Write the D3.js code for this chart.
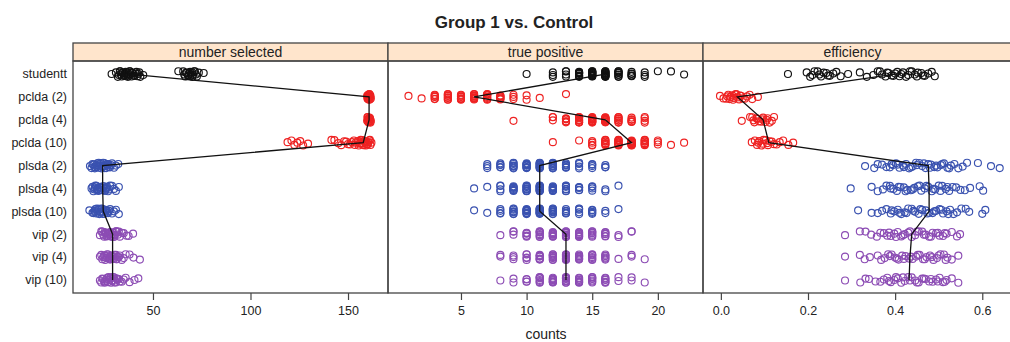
<!DOCTYPE html>
<html>
<head>
<meta charset="utf-8">
<script src="https://cdn.jsdelivr.net/npm/d3@7"></script>
<style>
  body { margin: 0; background: #fff; }
  text { font-family: "Liberation Sans", Arial, sans-serif; fill: #222; }
</style>
</head>
<body>
<svg id="chart" width="1010" height="342"></svg>
<script>
// rows (top to bottom) and their colour groups
const rows = ['studentt', 'pclda (2)', 'pclda (4)', 'pclda (10)', 'plsda (2)', 'plsda (4)', 'plsda (10)', 'vip (2)', 'vip (4)', 'vip (10)'];
const rowColors = ['#111111', '#ee2222', '#ee2222', '#ee2222', '#3a52b0', '#3a52b0', '#3a52b0', '#8c4cb4', '#8c4cb4', '#8c4cb4'];

const panelTitles = ['number selected', 'true positive', 'efficiency'];

// number selected, one list per row
const selectedValues = [
  [28.8, 31, 32, 32.5, 33, 33.2, 33.5, 34, 34.2, 34.5, 35, 35.2, 35.5, 36, 36.2, 36.5, 37, 37.2, 37.5, 38, 38.2, 38.5, 39, 39.2, 39.5, 40, 40.5, 41, 41.5, 42, 42.5, 43, 43.5, 45,
   63, 65.5, 66, 66.5, 67, 67.2, 68, 68.2, 68.5, 69, 69.2, 69.5, 70, 70.2, 70.5, 71, 71.5, 72, 72.5, 73.5, 76],
  [159.8, 160, 160.1, 160.2, 160.3, 160.4, 160.5, 160.6, 160.7, 160.8, 160.9, 161, 161.1, 161.2, 161.3, 161.5, 161.7],
  [159.8, 160, 160.1, 160.2, 160.4, 160.5, 160.6, 160.7, 160.8, 160.9, 161, 161.1, 161.2, 161.3, 161.5, 161.7],
  [119, 121, 122.5, 124, 125.5, 127, 129.5, 141.5, 143, 145, 146.5, 148, 149, 150, 151, 152, 153, 153.5, 154, 155, 155.5, 156, 156.5, 157, 157.5, 158, 158.5, 159, 159.5, 160, 160.5, 161, 161.5, 162, 158.2, 159.2, 160.2, 161.2, 157.2, 156.2],
  [17.7, 18.5, 19, 19.5, 20, 20.5, 21, 21.5, 22, 22.5, 23, 23.5, 24, 24.5, 25, 25.5, 26, 26.5, 27, 27.5, 28, 28.5, 29, 30, 31, 32.2, 20.2, 21.2, 22.2, 23.2, 24.2, 25.2, 26.2, 27.2],
  [18.5, 19, 19.5, 20, 20.5, 21, 21.5, 22, 22.5, 23, 23.5, 24, 24.5, 25, 25.5, 26, 26.5, 27, 27.5, 28, 29, 30, 31, 32.5, 20.2, 21.2, 22.2, 23.2, 24.2, 25.2, 26.2],
  [17.4, 19, 19.5, 20, 20.5, 21, 21.5, 22, 22.5, 23, 23.5, 24, 24.5, 25, 25.5, 26, 26.5, 27, 27.5, 28, 29, 30, 31, 32.5, 20.2, 21.2, 22.2, 23.2, 24.2, 25.2, 26.2],
  [22.8, 23.5, 24, 24.5, 25, 25.5, 26, 26.5, 27, 27.5, 28, 28.5, 29, 29.5, 30, 30.5, 31, 31.5, 32, 33, 34, 35, 36.5, 37.5, 39.8, 25.2, 26.2, 27.2, 28.2, 29.2, 30.2, 31.2, 32.5],
  [22.8, 23.5, 24, 24.5, 25, 25.5, 26, 26.5, 27, 27.5, 28, 28.5, 29, 29.5, 30, 30.5, 31, 31.5, 32, 33, 34, 35, 36, 38, 40, 43.3, 25.2, 26.2, 27.2, 28.2, 29.2, 30.2, 31.2, 32.5],
  [22.8, 23.5, 24, 24.5, 25, 25.5, 26, 26.5, 27, 27.5, 28, 28.5, 29, 29.5, 30, 30.5, 31, 31.5, 32, 33, 34, 35, 36, 38, 40.5, 42.5, 25.2, 26.2, 27.2, 28.2, 29.2, 30.2, 31.2, 32.5]
];
const selectedMedians = [38, 160.8, 160.8, 157.8, 24.2, 24.2, 24.5, 29.3, 29.3, 29.3];

// true positive: [count value, how many times] per row
const truePosCounts = [
  [[10, 1], [12, 3], [13, 4], [14, 10], [15, 14], [16, 14], [17, 9], [18, 6], [19, 3], [20, 1], [21, 1], [22, 1]],
  [[1, 1], [2, 1], [3, 6], [4, 8], [5, 8], [6, 10], [7, 8], [8, 7], [9, 3], [10, 2], [11, 1], [13, 1]],
  [[9, 1], [12, 3], [13, 6], [14, 10], [15, 12], [16, 12], [17, 8], [18, 6], [19, 4]],
  [[12, 1], [14, 1], [15, 4], [16, 8], [17, 10], [18, 12], [19, 8], [20, 3], [21, 1], [22, 1]],
  [[7, 3], [8, 5], [9, 8], [10, 10], [11, 12], [12, 10], [13, 7], [14, 5], [15, 4], [16, 3]],
  [[6, 1], [7, 1], [8, 4], [9, 8], [10, 10], [11, 12], [12, 10], [13, 7], [14, 5], [15, 4], [16, 2], [17, 1]],
  [[6, 1], [7, 1], [8, 4], [9, 8], [10, 10], [11, 12], [12, 10], [13, 6], [14, 5], [15, 5], [16, 2], [17, 1]],
  [[8, 1], [9, 3], [10, 6], [11, 8], [12, 10], [13, 10], [14, 8], [15, 7], [16, 6], [17, 2], [18, 2]],
  [[8, 2], [9, 3], [10, 5], [11, 8], [12, 10], [13, 10], [14, 8], [15, 7], [16, 6], [17, 1], [18, 2], [19, 1]],
  [[8, 1], [9, 2], [10, 4], [11, 8], [12, 10], [13, 10], [14, 8], [15, 7], [16, 7], [17, 2], [18, 2], [19, 1]]
];
const truePosMedians = [16, 6, 16, 18, 11, 11, 11, 13, 13, 13];

// efficiency, one list per row
const efficiencyValues = [
  [0.154, 0.197, 0.205, 0.21, 0.215, 0.222, 0.226, 0.23, 0.236, 0.242, 0.246, 0.25, 0.258, 0.265, 0.275, 0.292,
   0.319, 0.335, 0.35, 0.36, 0.365, 0.37, 0.378, 0.382, 0.385, 0.392, 0.396, 0.4, 0.405, 0.41, 0.414, 0.418, 0.425, 0.43, 0.434, 0.438, 0.445, 0.45, 0.452, 0.46, 0.464, 0.468, 0.476, 0.484, 0.491],
  [-0.002, 0.006, 0.012, 0.015, 0.017, 0.02, 0.022, 0.026, 0.028, 0.03, 0.034, 0.036, 0.038, 0.042, 0.044, 0.046, 0.05, 0.055, 0.06, 0.066, 0.072, 0.085],
  [0.048, 0.067, 0.072, 0.075, 0.077, 0.082, 0.085, 0.087, 0.092, 0.095, 0.097, 0.102, 0.105, 0.107, 0.112, 0.117, 0.122],
  [0.071, 0.078, 0.083, 0.086, 0.088, 0.093, 0.096, 0.098, 0.103, 0.106, 0.108, 0.112, 0.117, 0.122, 0.128, 0.135, 0.143, 0.155, 0.166],
  [0.331, 0.352, 0.36, 0.37, 0.38, 0.388, 0.395, 0.402, 0.41, 0.418, 0.425, 0.432, 0.44, 0.448, 0.455, 0.462, 0.47, 0.476, 0.482, 0.49, 0.497, 0.505, 0.512, 0.52, 0.528, 0.536, 0.545, 0.555, 0.565, 0.59, 0.62, 0.64,
   0.392, 0.406, 0.42, 0.436, 0.45, 0.466, 0.48, 0.494, 0.508, 0.524],
  [0.298, 0.346, 0.36, 0.372, 0.38, 0.388, 0.396, 0.404, 0.412, 0.42, 0.428, 0.436, 0.444, 0.452, 0.46, 0.468, 0.476, 0.484, 0.492, 0.5, 0.508, 0.516, 0.524, 0.532, 0.54, 0.55, 0.56, 0.572, 0.594, 0.602,
   0.39, 0.408, 0.424, 0.44, 0.456, 0.472, 0.488, 0.504, 0.52],
  [0.315, 0.346, 0.36, 0.37, 0.38, 0.39, 0.398, 0.406, 0.414, 0.422, 0.43, 0.438, 0.446, 0.454, 0.462, 0.47, 0.478, 0.486, 0.494, 0.502, 0.51, 0.518, 0.526, 0.534, 0.542, 0.552, 0.562, 0.57, 0.6, 0.607,
   0.392, 0.41, 0.426, 0.442, 0.458, 0.474, 0.49, 0.506, 0.522],
  [0.285, 0.319, 0.332, 0.345, 0.358, 0.366, 0.374, 0.382, 0.39, 0.398, 0.406, 0.414, 0.422, 0.43, 0.438, 0.446, 0.454, 0.462, 0.47, 0.478, 0.486, 0.494, 0.502, 0.51, 0.518, 0.53, 0.542, 0.549,
   0.386, 0.402, 0.418, 0.434, 0.45, 0.466, 0.482, 0.498, 0.514],
  [0.285, 0.319, 0.33, 0.342, 0.36, 0.368, 0.376, 0.384, 0.392, 0.4, 0.408, 0.416, 0.424, 0.432, 0.44, 0.448, 0.456, 0.464, 0.472, 0.48, 0.488, 0.496, 0.504, 0.512, 0.52, 0.53, 0.545,
   0.388, 0.404, 0.42, 0.436, 0.452, 0.468, 0.484, 0.5, 0.516],
  [0.285, 0.32, 0.332, 0.34, 0.355, 0.366, 0.374, 0.382, 0.39, 0.398, 0.406, 0.414, 0.422, 0.43, 0.438, 0.446, 0.454, 0.462, 0.47, 0.478, 0.486, 0.494, 0.502, 0.51, 0.518, 0.53, 0.545,
   0.386, 0.402, 0.418, 0.434, 0.45, 0.466, 0.482, 0.498, 0.514]
];
const efficiencyMedians = [0.4, 0.038, 0.097, 0.11, 0.476, 0.478, 0.478, 0.438, 0.434, 0.432];

const tickValues = [[50, 100, 150], [5, 10, 15, 20], [0, 0.2, 0.4, 0.6]];
const domains = [[9, 170.5], [-0.56, 23.44], [-0.041, 0.682]];

// layout
const panelTop = 61, panelBottom = 293, stripTop = 43;
const panelX = [73, 388, 703, 1018];
// small fixed vertical spread so stacked points stay visible
const jitter = [0, -2.2, 1.8, -1, 2.5, -2.6, 1, -1.6, 2.2, -0.5, 1.5, -1.4, 0.5, -2.8, 2.8];

const svg = d3.select('#chart');

const y = d3.scalePoint().domain(rows).range([panelTop, panelBottom]).padding(0.57);

svg.append('text')
  .attr('x', 514).attr('y', 28)
  .attr('text-anchor', 'middle')
  .attr('font-size', '17px').attr('font-weight', 'bold')
  .text('Group 1 vs. Control');

// row labels
svg.append('g').selectAll('text')
  .data(rows).enter().append('text')
  .attr('x', 67).attr('y', d => y(d))
  .attr('dy', '0.35em')
  .attr('text-anchor', 'end')
  .attr('font-size', '12.5px')
  .text(d => d);

// turn each panel's data into flat point lists
const expandList = vals => vals.flatMap((list, r) => list.map((v, i) => ({ row: r, value: v, k: i })));
const expandCounts = vals => vals.flatMap((list, r) => {
  let k = 0;
  return list.flatMap(([v, n]) => d3.range(n).map(() => ({ row: r, value: v, k: k++ })));
});

const panelPoints = [expandList(selectedValues), expandCounts(truePosCounts), expandList(efficiencyValues)];
const panelMedians = [selectedMedians, truePosMedians, efficiencyMedians];

panelTitles.forEach((title, p) => {
  const x0 = panelX[p], x1 = panelX[p + 1];
  const x = d3.scaleLinear().domain(domains[p]).range([x0, x1]);
  const g = svg.append('g');

  g.append('defs').append('clipPath').attr('id', 'clip' + p)
    .append('rect').attr('x', x0).attr('y', panelTop).attr('width', x1 - x0).attr('height', panelBottom - panelTop);

  // strip
  g.append('rect')
    .attr('x', x0).attr('y', stripTop).attr('width', x1 - x0).attr('height', panelTop - stripTop)
    .attr('fill', '#ffe5cc').attr('stroke', '#444').attr('stroke-width', 1.3);
  g.append('text')
    .attr('x', (x0 + x1) / 2 - (p === 2 ? 8 : 0)).attr('y', (stripTop + panelTop) / 2)
    .attr('dy', '0.35em').attr('text-anchor', 'middle')
    .attr('font-size', '14px')
    .text(title);

  const body = g.append('g').attr('clip-path', `url(#clip${p})`);

  body.selectAll('circle')
    .data(panelPoints[p]).enter().append('circle')
    .attr('cx', d => x(d.value))
    .attr('cy', d => y(rows[d.row]) + jitter[(d.k * 7 + d.row * 3) % jitter.length])
    .attr('r', 3.5)
    .attr('fill', 'none')
    .attr('stroke', d => rowColors[d.row])
    .attr('stroke-width', 1.15);

  body.append('path')
    .datum(panelMedians[p])
    .attr('fill', 'none')
    .attr('stroke', '#111')
    .attr('stroke-width', 1.3)
    .attr('d', d3.line().x(d => x(d)).y((d, i) => y(rows[i])));

  // panel frame
  g.append('rect')
    .attr('x', x0).attr('y', panelTop).attr('width', x1 - x0).attr('height', panelBottom - panelTop)
    .attr('fill', 'none').attr('stroke', '#444').attr('stroke-width', 1.3);

  // bottom axis
  const axis = g.append('g').attr('transform', `translate(0,${panelBottom})`)
    .call(d3.axisBottom(x).tickValues(tickValues[p]).tickSize(7).tickPadding(6)
      .tickFormat(p === 2 ? d3.format('.1f') : d3.format('d')));
  axis.select('.domain').remove();
  axis.selectAll('line').attr('stroke', '#444').attr('stroke-width', 1.2);
  axis.selectAll('text').attr('font-size', '12.5px').attr('fill', '#222')
    .attr('font-family', '"Liberation Sans", Arial, sans-serif');
});

svg.append('text')
  .attr('x', 546).attr('y', 334)
  .attr('dy', '0.35em').attr('text-anchor', 'middle')
  .attr('font-size', '14px')
  .text('counts');
</script>
</body>
</html>
